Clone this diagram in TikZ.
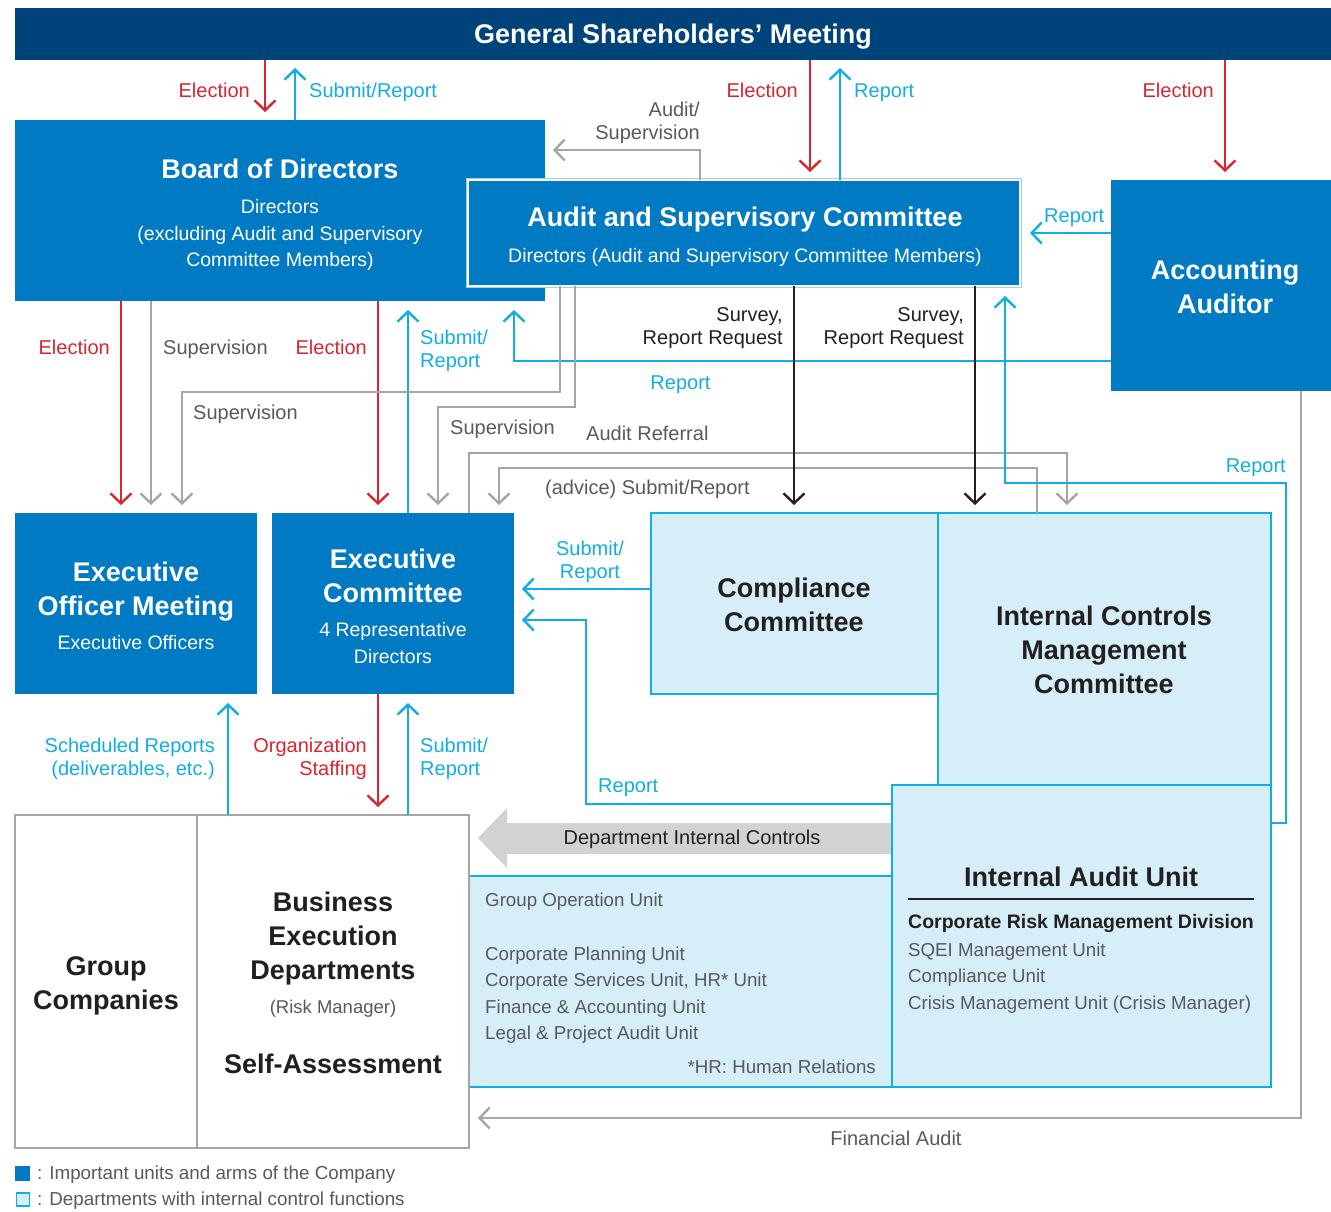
\documentclass[tikz,border=0pt]{standalone}
\usepackage{fontspec}
\setmainfont{Liberation Sans}
\usetikzlibrary{arrows.meta}
\definecolor{navy}{HTML}{00427A}
\definecolor{cblue}{HTML}{007AC3}
\definecolor{lblue}{HTML}{D6EEF8}
\definecolor{ccyan}{HTML}{12ADE3}
\definecolor{cred}{HTML}{D9252F}
\definecolor{cgray}{HTML}{A3A5A8}
\definecolor{tgray}{HTML}{58595B}
\definecolor{tdark}{HTML}{231F20}
\definecolor{arrgray}{HTML}{D1D2D4}
\definecolor{ascline}{HTML}{A9CDE8}
\tikzset{
  bbox/.style={fill=cblue, inner sep=0, outer sep=0},
  lbox/.style={fill=lblue, draw=ccyan, line width=2pt, inner sep=0, outer sep=0},
  gbox/.style={fill=white, draw=cgray, line width=2pt, inner sep=0, outer sep=0},
  big/.style={font=\fontsize{27}{34}\selectfont\bfseries, align=center, inner sep=0, text=tdark},
  sub/.style={font=\fontsize{19.5}{26.5}\selectfont, align=center, inner sep=0},
  lst/.style={font=\fontsize{18.7}{26.4}\selectfont, align=left, inner sep=0, text=tgray},
  lab/.style={font=\fontsize{20}{22.8}\selectfont, inner sep=0},
  one/.style={text height=13.8pt, text depth=0pt},
  conn/.style={line width=2.4pt, -{Straight Barb[length=10pt,width=21pt]}, shorten >=8pt},
  redA/.style={conn, draw=cred},
  cyanA/.style={conn, draw=ccyan},
  grayA/.style={conn, draw=cgray},
  blackA/.style={conn, draw=tdark},
}
\begin{document}
\begin{tikzpicture}[x=1pt,y=-1pt]
\useasboundingbox (0,0) rectangle (1331,1211);
% ---------- boxes ----------
\node[fill=navy, minimum width=1316pt, minimum height=52pt, inner sep=0, outer sep=0,
      text=white, text height=19.4pt, text depth=0pt, font=\fontsize{27}{32}\selectfont\bfseries] (gsm) at (673,34) {General Shareholders’ Meeting};

\node[bbox, minimum width=530pt, minimum height=181pt] (bod) at (280,210.5) {};
\node[big, text=white] (bodt) at (280,169) {Board of Directors};
\node[sub, text=white] (bods) at (280,235) {Directors\\(excluding Audit and Supervisory\\Committee Members)};

\node[bbox, draw=white, line width=2.5pt, minimum width=552pt, minimum height=106pt] (asc) at (744,233) {};
\draw[ascline, line width=0.8pt] ([shift={(-1.6pt,1.6pt)}]asc.north west) rectangle ([shift={(1.6pt,-1.6pt)}]asc.south east);
\node[big, text=white] (asct) at (745,220) {Audit and Supervisory Committee};
\node[sub, text=white] (ascs) at (745,257) {Directors (Audit and Supervisory Committee Members)};

\node[bbox, minimum width=220pt, minimum height=211pt] (aa) at (1221,285.5) {};
\node[big, text=white] (aat) at (1225,287) {Accounting\\Auditor};

\node[bbox, minimum width=242pt, minimum height=181pt] (eom) at (136,603.5) {};
\node[big, text=white] (eomt) at (136,592) {Executive\\Officer Meeting};
\node[sub, text=white] (eoms) at (136,643) {Executive Officers};

\node[bbox, minimum width=242pt, minimum height=181pt] (exc) at (393,603.5) {};
\node[big, text=white] (exct) at (393,575.5) {Executive\\Committee};
\node[sub, text=white, font=\fontsize{19.5}{27}\selectfont] (excs) at (393,643.5) {4 Representative\\Directors};

% department internal controls arrow
\fill[arrgray] (892,823) -- (507,823) -- (507,808) -- (478,838) -- (507,868) -- (507,854) -- (892,854) -- cycle;
\node[lab, one, text=tdark] (dic) at (692,838) {Department Internal Controls};

\node[lbox, minimum width=287pt, minimum height=181pt] (cc) at (794.5,603.5) {};
\node[big] (cct) at (794,605) {Compliance\\Committee};

\node[lbox, minimum width=333pt, minimum height=272pt] (icmc) at (1104.5,649) {};
\node[big] (icmct) at (1104,650) {Internal Controls\\Management\\Committee};

\node[lbox, minimum width=423pt, minimum height=211pt] (gop) at (680.5,981.5) {};
\node[lst, anchor=west] (gop1) at (485,902) {Group Operation Unit};
\node[lst, anchor=west] (gop2) at (485,995) {Corporate Planning Unit\\Corporate Services Unit, HR* Unit\\Finance \& Accounting Unit\\Legal \& Project Audit Unit};
\node[lst, anchor=east] (gop3) at (876,1067) {*HR: Human Relations};

\node[lbox, minimum width=379pt, minimum height=302pt] (iau) at (1081.5,936) {};
\node[big] (iaut) at (1081,877) {Internal Audit Unit};
\draw[tdark, line width=1.2pt] (908,899) -- (1254,899);
\node[lst, anchor=west, text=tdark, font=\fontsize{19.5}{26.4}\selectfont\bfseries] (iau1) at (908,923) {Corporate Risk Management Division};
\node[lst, anchor=west] (iau2) at (908,978) {SQEI Management Unit\\Compliance Unit\\Crisis Management Unit (Crisis Manager)};

\node[gbox, minimum width=182pt, minimum height=333pt] (gc) at (106,981.5) {};
\node[big] (gct) at (106,986) {Group\\Companies};
\node[gbox, minimum width=272pt, minimum height=333pt] (bed) at (333,981.5) {};
\node[big] (bedt) at (333,939) {Business\\Execution\\Departments};
\node[sub, text=tgray, font=\fontsize{18.5}{24}\selectfont] (beds) at (333,1009) {(Risk Manager)};
\node[big] (beda) at (333,1064) {Self-Assessment};

% legend
\node[fill=cblue, minimum size=15pt, inner sep=0] (lg1) at (22.5,1173) {};
\node[fill=lblue, draw=ccyan, line width=1.5pt, minimum size=13pt, inner sep=0] (lg2) at (23,1199.5) {};
\node[lst, anchor=west, text height=13.5pt, text depth=0pt, font=\fontsize{18.8}{22}\selectfont] (lt1) at (37,1173) {: Important units and arms of the Company};
\node[lst, anchor=west, text height=13.5pt, text depth=0pt, font=\fontsize{18.8}{22}\selectfont] (lt2) at (37,1199) {: Departments with internal control functions};

% ---------- connectors ----------
\draw[redA] (265,0 |- gsm.south) -- (265,0 |- bod.north);
\draw[cyanA] (295,0 |- bod.north) -- (295,0 |- gsm.south);
\draw[redA] (810,0 |- gsm.south) -- (810,0 |- asc.north);
\draw[cyanA] (840,0 |- asc.north) -- (840,0 |- gsm.south);
\draw[redA] (1225,0 |- gsm.south) -- (1225,0 |- aa.north);
\draw[grayA] (700,0 |- asc.north) |- (bod.east |- 0,150);
\draw[cyanA, shorten >=10pt] (aa.west |- 0,233) -- (asc.east |- 0,233);

\draw[redA] (121,0 |- bod.south) -- (121,0 |- eom.north);
\draw[grayA] (151,0 |- bod.south) -- (151,0 |- eom.north);
\draw[redA] (378,0 |- bod.south) -- (378,0 |- exc.north);
\draw[cyanA, shorten >=9pt] (408,0 |- exc.north) -- (408,0 |- bod.south);
\draw[cyanA, shorten >=9pt] (aa.west |- 0,361) -| (514,0 |- bod.south);
\draw[grayA] (560,0 |- asc.south) |- (182,392) -- (182,0 |- eom.north);
\draw[grayA] (575,0 |- asc.south) |- (438,407) -- (438,0 |- exc.north);
\draw[grayA] (469,0 |- exc.north) |- (1067,453) -- (1067,0 |- icmc.north);
\draw[grayA] (1037,0 |- icmc.north) |- (499,468) -- (499,0 |- exc.north);
\draw[blackA] (794,0 |- asc.south) -- (794,0 |- cc.north);
\draw[blackA] (975,0 |- asc.south) -- (975,0 |- icmc.north);
\draw[cyanA, shorten >=10pt] (iau.east |- 0,823) -| (1286,483) -| (1005,0 |- asc.south);
\draw[cyanA] (cc.west |- 0,589) -- (exc.east |- 0,589);
\draw[cyanA] (iau.west |- 0,804) -| (586,620) -- (exc.east |- 0,620);
\draw[cyanA, shorten >=9pt] (228,0 |- bed.north) -- (228,0 |- eom.south);
\draw[redA] (378,0 |- exc.south) -- (378,0 |- bed.north);
\draw[cyanA, shorten >=9pt] (408,0 |- bed.north) -- (408,0 |- exc.south);
\draw[grayA, shorten >=9pt] (1301,0 |- aa.south) |- (bed.east |- 0,1118);

% ---------- labels ----------
\node[lab, one, text=cred, anchor=east] (l1) at (250,91) {Election};
\node[lab, one, text=ccyan, anchor=west] (l2) at (309,91) {Submit/Report};
\node[lab, one, text=cred, anchor=east] (l3) at (798,91) {Election};
\node[lab, one, text=ccyan, anchor=west] (l4) at (854,91) {Report};
\node[lab, one, text=cred, anchor=east] (l5) at (1214,91) {Election};
\node[lab, text=tgray, anchor=east, align=right] (l6) at (700,123) {Audit/\\Supervision};
\node[lab, one, text=ccyan, anchor=west] (l7) at (1044,216) {Report};
\node[lab, one, text=cred, anchor=east] (l8) at (110,348) {Election};
\node[lab, one, text=tgray, anchor=west] (l9) at (163,348) {Supervision};
\node[lab, one, text=cred, anchor=east] (l10) at (367,348) {Election};
\node[lab, text=ccyan, anchor=west, align=left] (l11) at (420,350.5) {Submit/\\Report};
\node[lab, one, text=ccyan] (l12) at (680.5,383) {Report};
\node[lab, one, text=tgray, anchor=west] (l13) at (193,413) {Supervision};
\node[lab, one, text=tgray, anchor=west] (l14) at (450,428) {Supervision};
\node[lab, one, text=tgray, anchor=west] (l15) at (586,434) {Audit Referral};
\node[lab, one, text=tgray, anchor=west] (l16) at (545,488) {(advice) Submit/Report};
\node[lab, text=tdark, anchor=east, align=right] (l17) at (783,328) {Survey,\\Report Request};
\node[lab, text=tdark, anchor=east, align=right] (l18) at (964,328) {Survey,\\Report Request};
\node[lab, one, text=ccyan, anchor=east] (l19) at (1286,466) {Report};
\node[lab, text=ccyan, align=center] (l20) at (590,562) {Submit/\\Report};
\node[lab, one, text=ccyan, anchor=west] (l21) at (598,786) {Report};
\node[lab, text=ccyan, anchor=east, align=right] (l22) at (215,759) {Scheduled Reports\\(deliverables, etc.)};
\node[lab, text=cred, anchor=east, align=right] (l23) at (367,759) {Organization\\Staffing};
\node[lab, text=ccyan, anchor=west, align=left] (l24) at (420,759) {Submit/\\Report};
\node[lab, one, text=tgray] (l25) at (896,1139) {Financial Audit};
\end{tikzpicture}
\end{document}
